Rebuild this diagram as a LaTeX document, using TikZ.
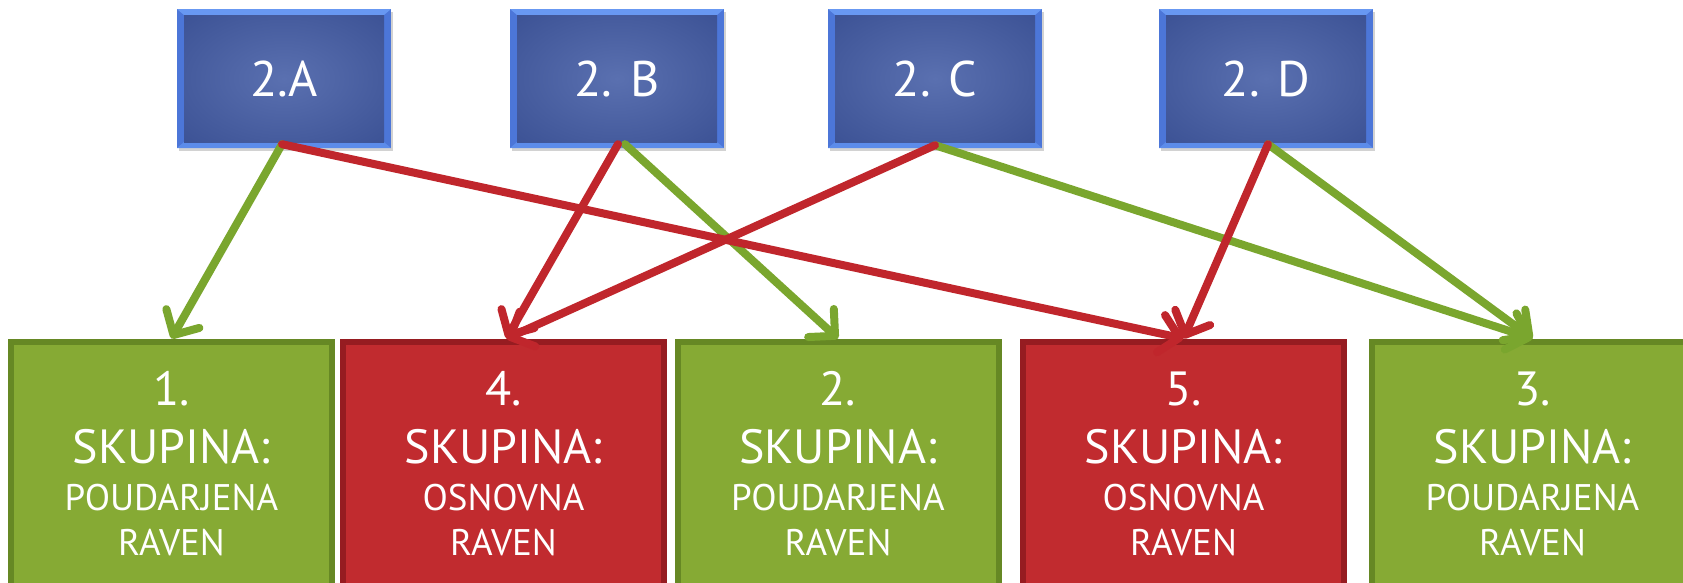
\documentclass[tikz,border=0pt]{standalone}
\usepackage{fontspec}
\setmainfont{PT Sans}
\usetikzlibrary{arrows.meta,shadows,calc}

\definecolor{blueC}{RGB}{90,112,176}
\definecolor{blueE}{RGB}{50,72,140}
\definecolor{bevelTop}{RGB}{104,152,242}
\definecolor{bevelSide}{RGB}{76,118,216}
\definecolor{bevelBot}{RGB}{92,140,234}
\definecolor{grFill}{RGB}{134,170,52}
\definecolor{grLine}{RGB}{102,136,36}
\definecolor{rdFill}{RGB}{193,43,47}
\definecolor{rdLine}{RGB}{150,28,33}
\definecolor{grArrow}{RGB}{122,166,46}
\definecolor{rdArrow}{RGB}{192,38,44}

\pgfdeclareradialshading{bluerad}{\pgfpoint{0bp}{0bp}}{color(0bp)=(blueC); color(48bp)=(blueE); color(100bp)=(blueE)}

\tikzset{
  topbox/.style={minimum width=214pt, minimum height=139pt, inner sep=0pt,
    fill=bevelSide, text=white, font=\fontsize{50}{54}\selectfont,
    drop shadow={opacity=0.35, shadow xshift=2pt, shadow yshift=-3pt},
    path picture={
      \coordinate (ppsw) at (path picture bounding box.south west);
      \coordinate (ppne) at (path picture bounding box.north east);
      \fill[bevelTop] (ppsw |- ppne) -- (ppne) -- ([shift={(-7pt,-6pt)}]ppne) -- ([shift={(7pt,-6pt)}]ppsw |- ppne) -- cycle;
      \fill[bevelBot] (ppsw) -- (ppsw -| ppne) -- ([shift={(-7pt,6pt)}]ppsw -| ppne) -- ([shift={(7pt,6pt)}]ppsw) -- cycle;
      \shade[shading=bluerad] ([shift={(7pt,6pt)}]ppsw) rectangle ([shift={(-7pt,-6pt)}]ppne);
    }},
  grbox/.style={minimum width=321pt, minimum height=259pt, inner sep=0pt,
    fill=grFill, draw=grLine, line width=6pt},
  rdbox/.style={grbox, fill=rdFill, draw=rdLine},
  numtxt/.style={anchor=base, inner sep=0pt, text=white, font=\fontsize{48}{50}\selectfont},
  subtxt/.style={anchor=base, inner sep=0pt, text=white, font=\fontsize{37}{40}\selectfont},
  arr/.style={line width=8pt, line cap=round, -{Straight Barb[length=19pt,width=38pt,round]}},
  garr/.style={arr, draw=grArrow},
  rarr/.style={arr, draw=rdArrow},
}

\begin{document}
\begin{tikzpicture}[x=1pt,y=-1pt]
  \clip (0,0) rectangle (1683,582);
  \fill[white] (0,0) rectangle (1683,582);

  % top boxes
  \node[topbox] (a) at (284,78.5) {2.A};
  \node[topbox] (b) at (617,78.5) {2. B};
  \node[topbox] (c) at (935,78.5) {2. C};
  \node[topbox] (d) at (1266,78.5) {2. D};

  % bottom boxes
  \node[grbox] (b1) at (171.5,471) {};
  \node[rdbox] (b2) at (503.5,471) {};
  \node[grbox] (b3) at (838,471) {};
  \node[rdbox] (b4) at (1183.5,471) {};
  \node[grbox] (b5) at (1532.5,471) {};

  \foreach \bx/\num/\lvl in {b1/1./POUDARJENA, b2/4./OSNOVNA, b3/2./POUDARJENA, b4/5./OSNOVNA, b5/3./POUDARJENA}{
    \node[numtxt] (\bx n) at ([yshift=-67pt]\bx.north) {\num};
    \node[numtxt] (\bx s) at ([yshift=-125pt]\bx.north) {SKUPINA:};
    \node[subtxt] (\bx l) at ([yshift=-172pt]\bx.north) {\lvl};
    \node[subtxt] (\bx r) at ([yshift=-217pt]\bx.north) {RAVEN};
  }

  % green connectors
  \draw[garr] ([shift={(-2pt,4pt)}]a.south) -- (b1.north);
  \draw[garr] ([shift={(8pt,4pt)}]b.south) -- (b3.north);
  \draw[garr] ([shift={(0pt,3pt)}]c.south) -- (b5.north);
  \draw[garr] ([shift={(2pt,4pt)}]d.south) -- (b5.north);
  % red connectors
  \draw[rarr] ([shift={(-2pt,4pt)}]a.south) -- (b4.north);
  \draw[rarr] ([shift={(1pt,4pt)}]b.south) -- ([xshift=3pt]b2.north);
  \draw[rarr] ([shift={(0pt,3pt)}]c.south) -- ([xshift=3pt]b2.north);
  \draw[rarr] ([shift={(2pt,4pt)}]d.south) -- (b4.north);
\end{tikzpicture}
\end{document}
